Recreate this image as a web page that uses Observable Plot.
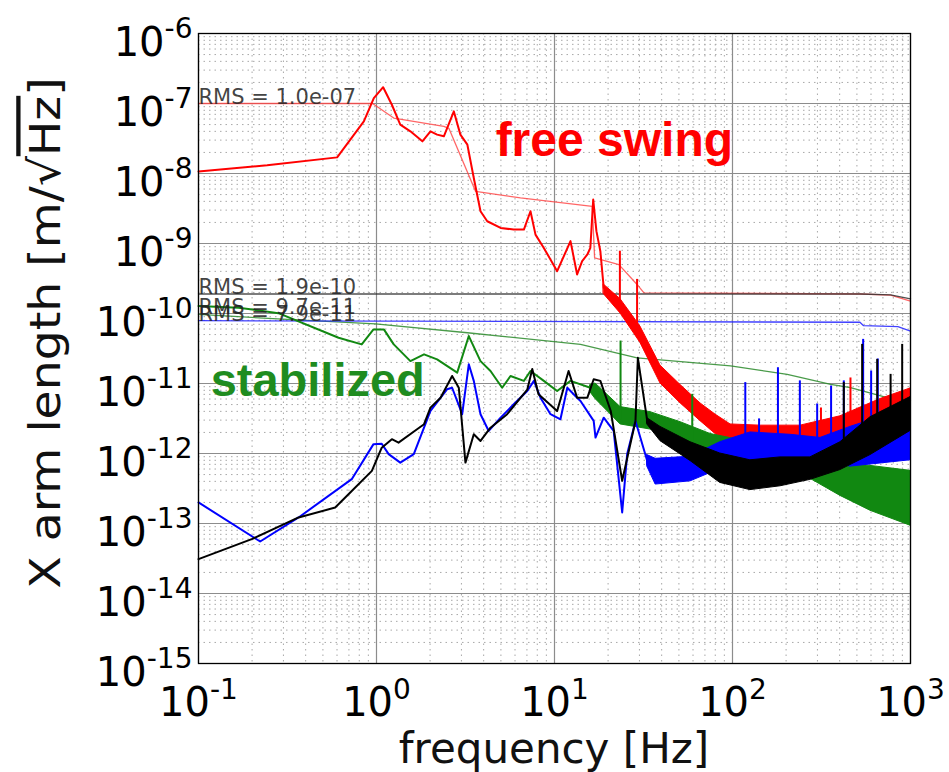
<!DOCTYPE html>
<html><head><meta charset="utf-8">
<script src="https://cdn.jsdelivr.net/npm/d3@7"></script>
<script src="https://cdn.jsdelivr.net/npm/@observablehq/plot@0.6"></script>
<style>body{margin:0;background:#fff}svg{display:block}</style>
</head><body><div id="chart"></div>
<script>
// ---- tick values ----
const xMajorTicks = [0.1, 1, 10, 100, 1000];
const yMajorTicks = [1e-15, 1e-14, 1e-13, 1e-12, 1e-11, 1e-10, 1e-9, 1e-8, 1e-7, 1e-6];
const minorSteps = [2, 3, 4, 5, 6, 7, 8, 9];
const xMinorTicks = [0.1, 1, 10, 100].flatMap(d => minorSteps.map(k => d * k));
const yMinorTicks = yMajorTicks.slice(0, -1).flatMap(d => minorSteps.map(k => d * k));

// ---- free swing (red) [frequency Hz, amplitude m/rtHz] ----
const redLine = [[0.1,1.07e-8],[0.243,1.31e-8],[0.601,1.70e-8],[0.849,5.56e-8],[0.966,1.19e-7],[1.09,1.71e-7],[1.22,9.6e-8],[1.36,4.98e-8],[1.55,4.0e-8],[1.81,2.88e-8],[2.01,4.0e-8],[2.19,3.59e-8],[2.39,3.40e-8],[2.72,7.71e-8],[2.96,3.59e-8],[3.24,2.58e-8],[3.52,8.63e-9],[3.84,2.89e-9],[4.19,2.08e-9],[4.98,1.67e-9],[5.90,1.58e-9],[6.73,1.58e-9],[7.33,2.89e-9],[7.82,1.34e-9],[8.71,8.65e-10],[10.35,4.03e-10],[12.3,1.08e-9],[13.4,3.61e-10],[14.3,5.6e-10],[15.3,6.97e-10],[15.9,8.65e-10],[16.5,4.25e-9],[17.2,1.50e-9],[18.1,7.76e-10],[18.9,2.33e-10]];
// noisy part: [frequency, upper, lower]
const redBand = [[18.9,2.6e-10,1.9e-10],[23.5,1.6e-10,1.0e-10],[30.4,6.5e-11,3.8e-11],[39.4,1.8e-11,1.0e-11],[51.1,9.5e-12,5.2e-12],[66.1,5.2e-12,2.9e-12],[80.2,3.6e-12,1.9e-12],[97.5,2.6e-12,1.4e-12],[144,2.5e-12,1.2e-12],[241,2.5e-12,1.0e-12],[404,3.4e-12,1.1e-12],[678,6.0e-12,1.5e-12],[1000,8.5e-12,1.8e-12]];
// spikes: [frequency, base, top]
const redSpikes = [[23.3,1.3e-10,7.76e-10],[29.1,6.25e-11,3.07e-10],[314,2e-12,4.47e-12],[460,2e-12,1.2e-11]];
const redRms = [[0.1,1.0e-7],[0.95,1.0e-7],[1.25,6.19e-8],[2.39,4.71e-8],[2.55,4.42e-8],[3.60,5.57e-9],[6.44,4.48e-9],[16.3,3.4e-9],[16.8,6.24e-10],[23.0,5.0e-10],[29.1,2.6e-10],[31.8,1.97e-10],[524,1.9e-10],[773,1.83e-10],[1000,1.5e-10]];

// ---- stabilized (green) ----
const greenLine = [[0.1,1.28e-10],[0.168,1.21e-10],[0.281,1.01e-10],[0.612,4.5e-11],[0.826,3.62e-11],[0.962,5.93e-11],[1.10,5.93e-11],[1.25,3.62e-11],[1.55,2.09e-11],[1.85,2.61e-11],[2.19,2.21e-11],[2.84,1.43e-11],[3.30,4.76e-11],[3.84,2.09e-11],[4.37,1.51e-11],[5.08,8.7e-12],[5.66,1.28e-11],[6.73,1.09e-11],[7.33,1.51e-11],[8.71,1.09e-11],[10.35,7.8e-12],[12.3,1.09e-11],[15.9,8.7e-12]];
const greenBand = [[15.9,9.5e-12,7.5e-12],[17.0,1.0e-11,6.0e-12],[23.5,4.6e-12,2.6e-12],[34.6,3.9e-12,2.2e-12],[51.1,2.8e-12,1.6e-12],[75.2,1.9e-12,1.05e-12],[111,1.55e-12,8.6e-13],[186,1.25e-12,6.8e-13],[274,9.2e-13,4.35e-13],[404,7.35e-13,2.48e-13],[596,6.65e-13,1.52e-13],[1000,5.65e-13,9.3e-14]];
const greenSpikes = [[23.5,3e-12,4.04e-11],[59.4,1.5e-12,7.0e-12]];
const greenRms = [[0.1,9.7e-11],[0.315,8.24e-11],[0.987,7.13e-11],[3.24,5.31e-11],[14.0,3.62e-11],[29.1,2.33e-11],[97.5,1.78e-11],[203,1.35e-11],[356,9.75e-12],[460,8.7e-12],[740,6.27e-12],[1000,5.62e-12]];

// ---- stabilized (blue) ----
const blueLine = [[0.1,2.0e-13],[0.222,5.53e-14],[0.365,1.22e-13],[0.726,4.3e-13],[0.962,1.36e-12],[1.07,1.38e-12],[1.17,9.8e-13],[1.36,7.4e-13],[1.62,9.8e-13],[2.01,4.05e-12],[2.49,8.26e-12],[2.66,8.7e-12],[3.03,3.64e-12],[3.30,1.88e-11],[3.52,1.09e-11],[3.84,3.64e-12],[4.27,2.1e-12],[4.98,3.25e-12],[5.90,5.05e-12],[7.03,7.8e-12],[7.66,1.09e-11],[8.34,6.27e-12],[9.5,3.64e-12],[10.8,3.08e-12],[11.8,8.7e-12],[13.4,6.27e-12],[14.0,5.62e-12],[16.6,2.92e-12],[17.0,1.69e-12],[18.9,3.25e-12],[21.5,2.1e-12],[24.0,1.44e-13],[25.6,9.8e-13],[28.5,2.92e-12],[33.2,7.83e-13]];
const blueBand = [[33.2,9.5e-13,6.5e-13],[37.0,8.4e-13,3.6e-13],[58.1,9.0e-13,4.0e-13],[85.3,1.45e-12,6.0e-13],[126,2.0e-12,7.0e-13],[212,1.85e-12,8.8e-13],[312,1.67e-12,8.0e-13],[460,2.4e-12,6.5e-13],[678,3.3e-12,7.2e-13],[1000,4.6e-12,8.0e-13]];
const blueSpikes = [[118,1.2e-12,1.03e-11],[141,1.2e-12,3.12e-12],[180,1.2e-12,1.68e-11],[239,1.2e-12,1.09e-11],[299,1.2e-12,5.1e-12],[358,1.2e-12,9.2e-12],[422,1.2e-12,1.09e-11],[542,1.5e-12,4.27e-11],[601,1.5e-12,1.51e-11],[655,1.5e-12,2.24e-11]];
const blueRms = [[0.1,7.9e-11],[520,7.5e-11],[545,6.7e-11],[850,6.5e-11],[1000,5.6e-11]];

// ---- stabilized (black) ----
const blackLine = [[0.1,3.1e-14],[0.199,5.98e-14],[0.365,1.22e-13],[0.586,1.69e-13],[0.726,2.92e-13],[0.942,5.65e-13],[1.07,1.21e-12],[1.22,1.6e-12],[1.33,1.43e-12],[1.69,2.22e-12],[1.85,2.62e-12],[2.01,4.52e-12],[2.29,6.27e-12],[2.66,1.28e-11],[2.90,8.7e-12],[3.16,7.41e-13],[3.52,1.88e-12],[3.84,1.51e-12],[4.37,2.34e-12],[5.42,3.64e-12],[7.03,8.16e-12],[7.5,1.61e-11],[8.13,7.0e-12],[10.35,4.05e-12],[12.0,1.51e-11],[13.4,6.27e-12],[15.3,6.27e-12],[16.6,1.15e-11],[18.1,1.09e-11],[20.7,4.05e-12],[24.0,4.07e-13],[28.5,2.92e-12],[29.4,2.33e-11],[33.2,2.92e-12]];
const blackBand = [[33.2,3.2e-12,2.6e-12],[39.4,2.4e-12,1.5e-12],[58.1,1.45e-12,7.8e-13],[85.3,1.0e-12,3.8e-13],[126,8.0e-13,3.0e-13],[186,8.8e-13,3.4e-13],[274,8.8e-13,4.2e-13],[404,1.45e-12,5.8e-13],[596,3.3e-12,9.5e-13],[1000,6.4e-12,2.1e-12]];
const blackSpikes = [[422,1.5e-12,1.03e-11],[535,2e-12,3.62e-11],[650,2.5e-12,2.21e-11],[773,3e-12,1.35e-11],[898,4e-12,3.62e-11]];
const blackRms = [[0.1,1.9e-10],[524,1.9e-10],[773,1.84e-10],[1000,1.62e-10]];

// ---- texts ----
const rmsLabels = [
  {label: "RMS = 1.0e-07", value: 1.0e-7},
  {label: "RMS = 1.9e-10", value: 1.9e-10},
  {label: "RMS = 9.7e-11", value: 9.7e-11},
  {label: "RMS = 7.9e-11", value: 7.9e-11}
];
const annotations = [
  {label: "free swing", f: 4.67, a: 1.76e-8},
  {label: "stabilized", f: 0.117, a: 6.64e-12}
];
const xLabel = "frequency [Hz]";
const yLabelParts = ["X arm length [m/\u221A", "Hz", "]"];

const F = d => d[0], A = d => d[1];
const curve = (line, band, spikes, color, w) => [
  Plot.areaY(band, {x: F, y1: d => d[2], y2: d => d[1], fill: color, stroke: color, strokeWidth: 1, curve: "linear"}),
  Plot.line(line, {x: F, y: A, stroke: color, strokeWidth: w, strokeLinejoin: "round"}),
  Plot.ruleX(spikes, {x: F, y1: d => d[1], y2: d => d[2], stroke: color, strokeWidth: 2})
];
const rms = (data, color, op) => Plot.line(data, {x: F, y: A, stroke: color, strokeWidth: 1.3, strokeOpacity: op});

const supFmt = d => "10^" + Math.round(Math.log10(d));

const plot = Plot.plot({
  width: 949, height: 772,
  marginLeft: 198, marginRight: 39, marginTop: 33, marginBottom: 109,
  x: {type: "log", domain: [0.1, 1000]},
  y: {type: "log", domain: [1e-15, 1e-6]},
  style: {fontFamily: "DejaVu Sans", background: "white", overflow: "visible"},
  marks: [
    Plot.gridX(xMinorTicks, {stroke: "#a8a8a8", strokeOpacity: 1, strokeDasharray: "1.5,4", strokeWidth: 1}),
    Plot.gridY(yMinorTicks, {stroke: "#a8a8a8", strokeOpacity: 1, strokeDasharray: "1.5,4", strokeWidth: 1}),
    Plot.gridX(xMajorTicks, {stroke: "#8c8c8c", strokeOpacity: 1, strokeWidth: 1.2}),
    Plot.gridY(yMajorTicks, {stroke: "#8c8c8c", strokeOpacity: 1, strokeWidth: 1.2}),
    rms(greenRms, "#2a8a2a", 0.85),
    rms(redRms, "#ff4040", 0.8),
    rms(blueRms, "#2020ff", 0.85),
    rms(blackRms, "#333333", 0.85),
    ...curve(redLine, redBand, redSpikes, "#ff0000", 2),
    ...curve(greenLine, greenBand, greenSpikes, "#118811", 2),
    ...curve(blueLine, blueBand, blueSpikes, "#0000ff", 2),
    ...curve(blackLine, blackBand, blackSpikes, "#000000", 2),
    Plot.text(rmsLabels, {y: "value", text: "label", frameAnchor: "left", textAnchor: "start", lineAnchor: "bottom", fontSize: 21, fill: "#222", fillOpacity: 0.85}),
    Plot.text(annotations.slice(0, 1), {x: "f", y: "a", text: "label", textAnchor: "start", lineAnchor: "bottom", fontSize: 48, fontWeight: "bold", fontFamily: "Liberation Sans", fill: "#ff0000"}),
    Plot.text(annotations.slice(1), {x: "f", y: "a", text: "label", textAnchor: "start", lineAnchor: "bottom", fontSize: 47, fontWeight: "bold", fontFamily: "Liberation Sans", fill: "#1f8c1f"}),
    Plot.axisX(xMajorTicks, {anchor: "bottom", tickFormat: supFmt, tickSize: 0, tickPadding: 24, fontSize: 40, label: null}),
    Plot.axisY(yMajorTicks, {anchor: "left", tickFormat: supFmt, tickSize: 0, tickPadding: 6, fontSize: 40, label: null}),
    Plot.frame({stroke: "#000", strokeWidth: 1.3})
  ]
});

document.getElementById("chart").appendChild(plot);
const svg = d3.select(plot);

// superscript exponents on tick labels
svg.selectAll('g[aria-label="x-axis tick label"] text, g[aria-label="y-axis tick label"] text').each(function () {
  const t = d3.select(this);
  const m = t.text().match(/^10\^(.*)$/);
  if (!m) return;
  t.text(null);
  t.append("tspan").text("10");
  t.append("tspan").attr("font-size", "0.7em").attr("dy", "-0.62em").text(m[1]);
});
svg.selectAll('g[aria-label="y-axis tick label"] text').attr("y", "0.55em");

// axis titles
svg.append("text").attr("x", 554).attr("y", 763).attr("text-anchor", "middle")
  .attr("font-family", "DejaVu Sans").attr("font-size", 42).attr("fill", "#111").text(xLabel);
const yl = svg.append("text").attr("transform", "translate(60,333) scale(1,1.1) rotate(-90)").attr("text-anchor", "middle")
  .attr("font-family", "DejaVu Sans").attr("font-size", 43).attr("fill", "#111");
yl.append("tspan").text(yLabelParts[0]);
yl.append("tspan").attr("text-decoration", "overline").style("text-decoration", "overline").text(yLabelParts[1]);
yl.append("tspan").text(yLabelParts[2]);
</script>
</body></html>
